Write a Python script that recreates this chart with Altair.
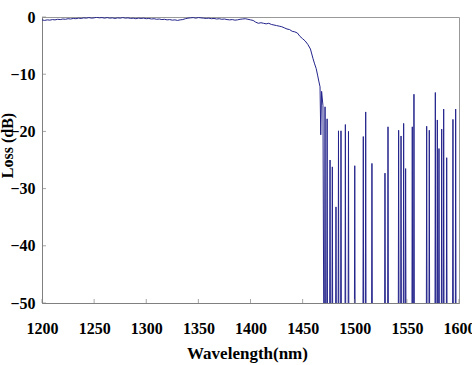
import altair as alt
import pandas as pd

# ---- data ----
x_ticks = [1200, 1250, 1300, 1350, 1400, 1450, 1500, 1550, 1600]
y_ticks = [0, -10, -20, -30, -40, -50]

# flat / roll-off part, sampled every 2.5 nm starting at 1200 nm
flat_start = 1200
flat_step = 2.5
flat_loss = [
    -0.5, -0.6, -0.5, -0.55, -0.45, -0.5, -0.4, -0.45, -0.35, -0.4,
    -0.3, -0.35, -0.25, -0.3, -0.2, -0.25, -0.15, -0.2, -0.1, -0.2,
    -0.15, -0.05, -0.15, -0.1, -0.2, -0.1, -0.2, -0.15, -0.25, -0.15,
    -0.2, -0.1, -0.2, -0.15, -0.25, -0.2, -0.3, -0.2, -0.25, -0.2,
    -0.3, -0.25, -0.35, -0.3, -0.4, -0.35, -0.45, -0.4, -0.5, -0.45,
    -0.55, -0.5, -0.6, -0.5, -0.45, -0.3, -0.2, -0.15, -0.1, -0.2,
    -0.1, -0.15, -0.2, -0.25, -0.2, -0.3, -0.25, -0.35, -0.3, -0.4,
    -0.35, -0.45, -0.5, -0.45, -0.55, -0.5, -0.4, -0.35, -0.3, -0.4,
    -0.5, -0.6, -0.9, -1.1, -1.0, -1.1, -1.2, -1.1, -1.3, -1.4,
    -1.5, -1.6, -1.7, -1.9, -2.1, -2.2, -2.5, -2.6, -2.8, -3.4,
    -3.8, -4.2, -4.8, -5.6,
]

# steep edge
edge_wl = [1460, 1461.5, 1463, 1464.5, 1465.5, 1466.7, 1467.4, 1468.2, 1469.5, 1470.3]
edge_loss = [-7.3, -8.2, -9.0, -10.3, -11.2, -12.2, -20.6, -13.0, -15.5, -55]

# noise spikes beyond the edge (peak wavelength, peak loss)
spike_wl = [1471.5, 1473.5, 1476.3, 1478.5, 1482.0, 1484.4, 1486.8, 1491.0, 1494.0,
            1500.0, 1508.2, 1510.5, 1516.5, 1529.0, 1531.9, 1542.1, 1544.4, 1546.9,
            1548.8, 1555.2, 1556.8, 1569.0, 1571.5, 1577.3, 1579.2, 1580.8, 1583.4,
            1585.3, 1588.2, 1594.2, 1596.8]
spike_top = [-15.7, -17.8, -25.0, -26.2, -33.2, -19.9, -19.9, -18.8, -20.0,
             -26.0, -20.9, -16.6, -25.6, -27.3, -19.2, -19.8, -20.8, -18.6,
             -26.5, -19.2, -13.5, -19.1, -19.8, -13.2, -18.0, -23.0, -19.6,
             -16.1, -24.6, -17.9, -16.1]
floor_loss = -55
spike_half = 0.35

# ---- build the table ----
wl, loss = [], []
for i, v in enumerate(flat_loss):
    wl.append(flat_start + flat_step * i)
    loss.append(v)
wl += edge_wl
loss += edge_loss
for w, t in zip(spike_wl, spike_top):
    wl += [w - spike_half, w, w + spike_half]
    loss += [floor_loss, t, floor_loss]
wl.append(1600)
loss.append(floor_loss)

df = pd.DataFrame({"wl": wl, "loss": loss, "order": list(range(len(wl)))})
xt = pd.DataFrame({"wl": x_ticks, "loss": [-50] * len(x_ticks)})
yt = pd.DataFrame({"loss": y_ticks, "wl": [1200] * len(y_ticks)})

xscale = alt.Scale(domain=[1200, 1600], nice=False, zero=False)
yscale = alt.Scale(domain=[-50, 0], nice=False, zero=False)

FONT = "Liberation Serif"

common = dict(ticks=False, tickSize=0, grid=False, format="d", labelOverlap=False,
              labelFont=FONT, labelFontWeight="bold", labelFontSize=16,
              labelColor="black", titleFont=FONT, titleFontWeight="bold",
              titleColor="black", domainColor="#808080")

xaxis = alt.Axis(values=x_ticks, title="Wavelength(nm)", labelPadding=17,
                 titleY=55, titleBaseline="alphabetic", titleX=205,
                 titleFontSize=17, labelFlush=False, **common)
yaxis = alt.Axis(values=y_ticks, title="Loss (dB)", labelPadding=7,
                 titleX=-30, titleY=128, titleAngle=270, titleFontSize=16,
                 titleBaseline="alphabetic", titleAlign="center", **common)

line = alt.Chart(df).mark_line(color="#24248c", strokeWidth=1, clip=True).encode(
    x=alt.X("wl:Q", scale=xscale, axis=xaxis),
    y=alt.Y("loss:Q", scale=yscale, axis=yaxis),
    order="order:Q",
)

xtick_layer = alt.Chart(xt).mark_tick(orient="vertical", size=4, yOffset=-2,
                                      thickness=1, color="#808080").encode(
    x=alt.X("wl:Q", scale=xscale, axis=xaxis),
    y=alt.Y("loss:Q", scale=yscale, axis=yaxis),
)
ytick_layer = alt.Chart(yt).mark_tick(orient="horizontal", size=4, xOffset=2,
                                      thickness=1, color="#808080").encode(
    x=alt.X("wl:Q", scale=xscale, axis=xaxis),
    y=alt.Y("loss:Q", scale=yscale, axis=yaxis),
)

chart = alt.layer(line, xtick_layer, ytick_layer).properties(
    width=417, height=286,
    autosize="none",
    padding={"left": 42, "top": 17, "right": 13, "bottom": 62},
    background="white",
).configure_view(
    stroke="#999999", strokeWidth=1
)

chart.save("out.html", embed_options={"renderer": "svg", "actions": False})
